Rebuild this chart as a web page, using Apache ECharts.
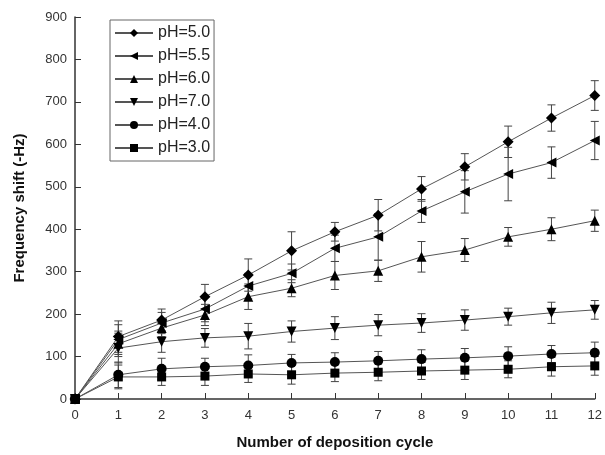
<!DOCTYPE html>
<html>
<head>
<meta charset="utf-8">
<script src="https://cdn.jsdelivr.net/npm/echarts@6/dist/echarts.min.js"></script>
<style>
  html, body { margin: 0; padding: 0; background: #fff; }
  #chart { width: 605px; height: 455px; }
</style>
</head>
<body>
<div id="chart"></div>
<script>
// deposition cycles
const cycles = [0, 1, 2, 3, 4, 5, 6, 7, 8, 9, 10, 11, 12];

// frequency shift values (-Hz)
const ph50 = [0, 147, 186, 241, 292, 349, 394, 433, 495, 547, 606, 662, 715];
const ph55 = [0, 140, 179, 212, 266, 296, 355, 382, 443, 488, 530, 557, 609];
const ph60 = [0, 130, 167, 198, 241, 261, 291, 302, 335, 351, 382, 400, 420];
const ph70 = [0, 120, 135, 144, 148, 159, 167, 174, 179, 186, 194, 203, 210];
const ph40 = [0, 57, 71, 76, 79, 85, 87, 90, 94, 97, 101, 106, 109];
const ph30 = [0, 52, 52, 54, 59, 57, 61, 63, 66, 68, 70, 76, 78];

// error bar half-heights
const err50 = [0, 37, 26, 29, 38, 45, 22, 37, 29, 31, 37, 31, 35];
const err55 = [0, 35, 25, 30, 30, 22, 31, 55, 27, 50, 63, 37, 45];
const err60 = [0, 30, 20, 25, 30, 20, 33, 25, 36, 27, 22, 27, 25];
const err70 = [0, 35, 25, 22, 30, 25, 27, 25, 22, 24, 20, 25, 22];
const err40 = [0, 30, 25, 20, 25, 20, 22, 22, 22, 22, 22, 20, 25];
const err30 = [0, 28, 20, 22, 20, 22, 20, 20, 20, 22, 20, 22, 22];

const names = ["pH=5.0", "pH=5.5", "pH=6.0", "pH=7.0", "pH=4.0", "pH=3.0"];
const values = [ph50, ph55, ph60, ph70, ph40, ph30];
const errors = [err50, err55, err60, err70, err40, err30];
const symbols = ["diamond", "triangle", "triangle", "triangle", "circle", "rect"];
const rotations = [0, 90, 0, 180, 0, 0];
const sizes = [11, 10, 10, 10, 10, 9];

const series = [];
names.forEach((name, i) => {
  series.push({
    name: name,
    type: "line",
    data: cycles.map((c, j) => [c, values[i][j]]),
    symbol: symbols[i],
    symbolRotate: rotations[i],
    symbolSize: sizes[i],
    showAllSymbol: true,
    itemStyle: { color: "#000" },
    lineStyle: { color: "#555", width: 1 },
    z: 3,
  });
  series.push({
    type: "custom",
    silent: true,
    data: cycles.slice(1).map((c, j) => [c, values[i][j + 1] - errors[i][j + 1], values[i][j + 1] + errors[i][j + 1]]),
    renderItem: (params, api) => {
      const lo = api.coord([api.value(0), api.value(1)]);
      const hi = api.coord([api.value(0), api.value(2)]);
      const w = 4;
      const st = { stroke: "#444", lineWidth: 1 };
      return {
        type: "group",
        children: [
          { type: "line", shape: { x1: lo[0], y1: lo[1], x2: hi[0], y2: hi[1] }, style: st },
          { type: "line", shape: { x1: lo[0] - w, y1: lo[1], x2: lo[0] + w, y2: lo[1] }, style: st },
          { type: "line", shape: { x1: hi[0] - w, y1: hi[1], x2: hi[0] + w, y2: hi[1] }, style: st },
        ],
      };
    },
    z: 2,
  });
});

const myChart = echarts.init(document.getElementById("chart"));
const option = {
  animation: false,
  backgroundColor: "#fff",
  grid: { left: 75, right: 7, top: 17, bottom: 56 },
  legend: {
    data: names,
    orient: "vertical",
    left: 110,
    top: 20,
    itemWidth: 38,
    itemHeight: 10,
    itemGap: 7,
    padding: [5, 4, 5, 4],
    borderColor: "#666",
    borderWidth: 1,
    borderRadius: 0,
    textStyle: { fontFamily: "Liberation Sans", fontSize: 16, color: "#222" },
  },
  xAxis: {
    type: "value",
    min: 0,
    max: 12,
    interval: 1,
    name: "Number of deposition cycle",
    nameLocation: "middle",
    nameGap: 36,
    nameTextStyle: { fontFamily: "Liberation Sans", fontSize: 15, fontWeight: "bold", color: "#111" },
    axisLine: { lineStyle: { color: "#333", width: 1.5 } },
    axisTick: { inside: true, length: 6, lineStyle: { color: "#333" } },
    axisLabel: { fontFamily: "Liberation Sans", fontSize: 13, color: "#333", margin: 10 },
    splitLine: { show: false },
  },
  yAxis: {
    type: "value",
    min: 0,
    max: 900,
    interval: 100,
    name: "Frequency shift (-Hz)",
    nameLocation: "middle",
    nameGap: 48,
    nameTextStyle: { fontFamily: "Liberation Sans", fontSize: 15, fontWeight: "bold", color: "#111" },
    axisLine: { show: true, lineStyle: { color: "#333", width: 1.5 } },
    axisTick: { show: true, inside: true, length: 6, lineStyle: { color: "#333" } },
    axisLabel: { fontFamily: "Liberation Sans", fontSize: 13, color: "#333", margin: 8 },
    splitLine: { show: false },
  },
  series: series,
};
myChart.setOption(option);
</script>
</body>
</html>
